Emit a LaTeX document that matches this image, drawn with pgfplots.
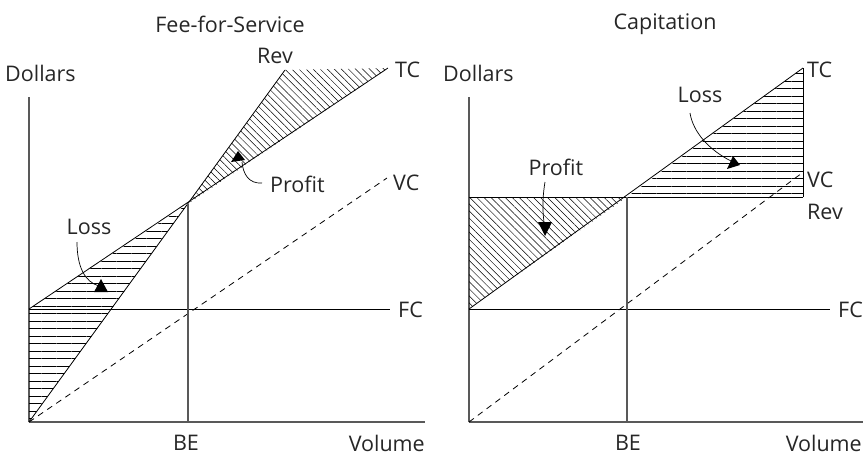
\documentclass[border=0pt]{standalone}
\usepackage{pgfplots}
\pgfplotsset{compat=1.18}
\usepackage{fontspec}
\setmainfont{Open Sans}
\usetikzlibrary{patterns.meta}

\definecolor{axisgray}{gray}{0.35}

\pgfplotsset{
  bepanel/.style={
    x=1pt, y=1pt,
    xmin=0, ymin=0,
    axis x line=bottom, axis y line=left,
    axis line style={-, draw=axisgray, line width=1.1pt},
    xtick=\empty, ytick=\empty,
    enlargelimits=false, clip=false,
    anchor=origin,
  },
  cline/.style={black, line width=0.8pt, no markers},
  vcline/.style={black, line width=0.8pt, no markers, dash pattern=on 6pt off 5pt},
}
\tikzset{
  lbl/.style={font=\fontsize{21.5}{24}\selectfont, text=black!85, inner sep=0pt},
  hatchH/.style={draw=none, pattern={Lines[angle=0, distance=7.5pt, line width=0.6pt]}},
  hatchD/.style={draw=none, pattern={Lines[angle=-45, distance=5pt, line width=0.5pt]}},
}

\begin{document}
\begin{tikzpicture}
\useasboundingbox (0,0) rectangle (863pt,-456pt);

% ---- Fee-for-Service ----
\begin{axis}[bepanel, at={(29pt,-422pt)}, xmax=396, ymax=325]
  % hatched areas
  \addplot[hatchH] coordinates {(0,0) (0,113) (159,218)} -- cycle;
  \addplot[hatchD] coordinates {(159,218) (256,352) (359,354)} -- cycle;
  % lines
  \addplot[cline] coordinates {(0,113) (361,113)};        % FC
  \addplot[vcline] coordinates {(0,0) (358,244)};         % VC
  \addplot[cline] coordinates {(0,113) (359,354)};        % TC
  \addplot[cline] coordinates {(0,0) (256,352)};          % Rev
  \addplot[cline, draw=axisgray, line width=1.1pt] coordinates {(159,0) (159,218)}; % BE
  % callouts
  \draw[black, line width=0.7pt] (48,180) .. controls (48,155) and (56,140) .. (70,136);
  \fill[black] (72,143) -- (65,130) -- (79,130) -- cycle;
  \draw[black, line width=0.7pt] (233,239) .. controls (220,238) and (214,248) .. (213,260);
  \fill[black] (209,271) -- (202,260) -- (216,262) -- cycle;
  % labels
  \node[lbl] at (201,398) {Fee-for-Service};
  \node[lbl, anchor=west] at (-24,349) {Dollars};
  \node[lbl] at (246,366) {Rev};
  \node[lbl, anchor=west] at (366,352) {TC};
  \node[lbl, anchor=west] at (364,239) {VC};
  \node[lbl, anchor=west] at (241,238) {Profit};
  \node[lbl, anchor=west] at (369,112) {FC};
  \node[lbl] at (60,195) {Loss};
  \node[lbl] at (157,-21) {BE};
  \node[lbl, anchor=east] at (396,-21) {Volume};
\end{axis}

% ---- Capitation ----
\begin{axis}[bepanel, at={(469pt,-422pt)}, xmax=394, ymax=325]
  \addplot[hatchD] coordinates {(0,113) (0,225) (158,225)} -- cycle;
  \addplot[hatchH] coordinates {(158,225) (334,354) (334,225)} -- cycle;
  \addplot[cline] coordinates {(0,113) (361,113)};        % FC
  \addplot[vcline] coordinates {(0,0) (333,249)};         % VC
  \addplot[cline] coordinates {(0,225) (334,225)};        % Rev
  \addplot[cline] coordinates {(0,113) (334,354)};        % TC
  \addplot[cline] coordinates {(334,225) (334,354)};
  \addplot[cline, draw=axisgray, line width=1.1pt] coordinates {(158,0) (158,225)}; % BE
  % callouts
  \draw[black, line width=0.7pt] (221,309) .. controls (224,290) and (240,272) .. (262,261);
  \fill[black] (271,257) -- (258,253) -- (264,266) -- cycle;
  \draw[black, line width=0.7pt] (76,240) .. controls (74,228) and (73,215) .. (75,200);
  \fill[black] (76,186) -- (69,200) -- (83,200) -- cycle;
  % labels
  \node[lbl] at (196,398) {Capitation};
  \node[lbl, anchor=west] at (-26,349) {Dollars};
  \node[lbl, anchor=west] at (338,352) {TC};
  \node[lbl] at (231,327) {Loss};
  \node[lbl] at (87,255) {Profit};
  \node[lbl, anchor=west] at (338,242) {VC};
  \node[lbl, anchor=west] at (338,210) {Rev};
  \node[lbl, anchor=west] at (369,112) {FC};
  \node[lbl] at (159,-21) {BE};
  \node[lbl, anchor=east] at (393,-21) {Volume};
\end{axis}
\end{tikzpicture}
\end{document}
